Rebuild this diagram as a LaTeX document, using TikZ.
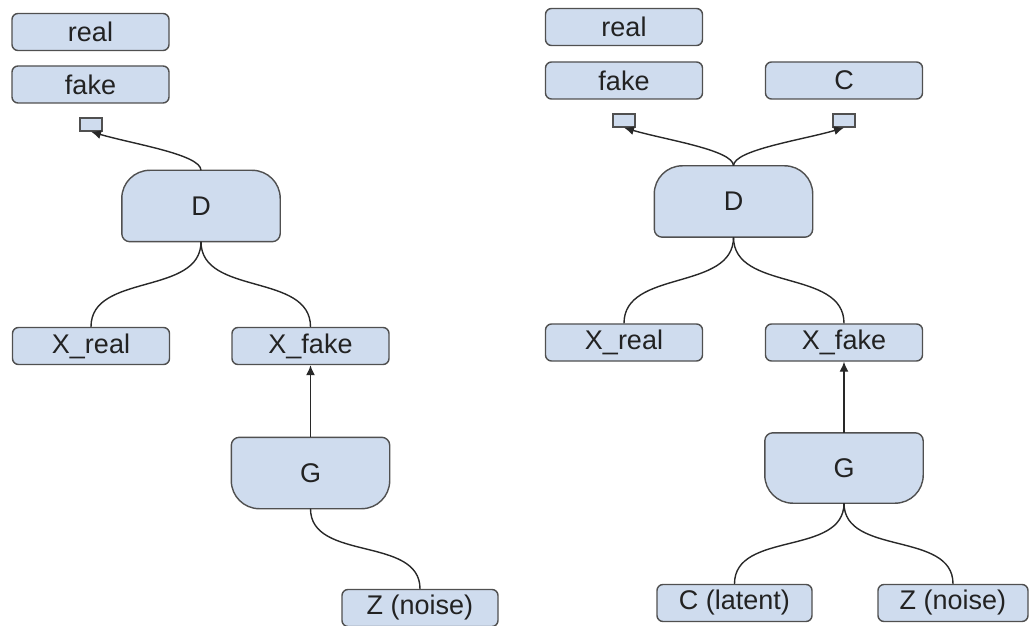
\documentclass[tikz,border=0pt]{standalone}
\usepackage{fontspec}
\setmainfont{Liberation Sans}
\usetikzlibrary{arrows.meta,backgrounds}
\definecolor{boxfill}{RGB}{207,220,238}
\definecolor{boxline}{RGB}{80,80,80}
\definecolor{txt}{RGB}{34,34,34}
\definecolor{wire}{RGB}{40,40,40}
\tikzset{
  lbl/.style={draw=boxline, fill=boxfill, line width=1.4pt, rounded corners=6pt,
    minimum width=157pt, minimum height=37pt, inner sep=0pt, text=txt,
    font=\fontsize{27}{31}\selectfont},
  sq/.style={draw=boxline, fill=boxfill, line width=1.3pt, minimum width=22pt,
    minimum height=13pt, inner sep=0pt},
  blk/.style={minimum width=158pt, minimum height=71pt, inner sep=0pt, text=txt,
    font=\fontsize{27}{31}\selectfont},
  blkshape/.style={draw=boxline, fill=boxfill, line width=1.4pt},
  link/.style={draw=wire, line width=1.4pt},
  arr/.style={link, -{Latex[length=10pt,width=9pt]}},
}
\newcommand\DshapeOf[1]{%
  \draw[blkshape] ([xshift=8pt]#1.south west) -- ([xshift=-8pt]#1.south east)
    arc[start angle=-90,end angle=0,radius=8pt] -- ([yshift=-28pt]#1.north east)
    arc[start angle=0,end angle=90,radius=28pt] -- ([xshift=28pt]#1.north west)
    arc[start angle=90,end angle=180,radius=28pt] -- ([yshift=8pt]#1.south west)
    arc[start angle=180,end angle=270,radius=8pt] -- cycle;}
\newcommand\GshapeOf[1]{%
  \draw[blkshape] ([xshift=28pt]#1.south west) -- ([xshift=-28pt]#1.south east)
    arc[start angle=-90,end angle=0,radius=28pt] -- ([yshift=-8pt]#1.north east)
    arc[start angle=0,end angle=90,radius=8pt] -- ([xshift=8pt]#1.north west)
    arc[start angle=90,end angle=180,radius=8pt] -- ([yshift=28pt]#1.south west)
    arc[start angle=180,end angle=270,radius=28pt] -- cycle;}
\begin{document}
\begin{tikzpicture}[x=1pt,y=1pt]
\useasboundingbox (0,0) rectangle (1029,625);

% ---------- left panel ----------
\node[lbl] (realL) at (90.5,593) {real};
\node[lbl] (fakeL) at (90.5,540.5) {fake};
\node[sq] (sqL) at (91,500.5) {};
\node[blk] (DL) at (201,419) {D};
\node[lbl] (xrealL) at (91,279) {X\_real};
\node[lbl] (xfakeL) at (310.5,279) {X\_fake};
\node[blk] (GL) at (310.5,152) {G};
\node[lbl, minimum width=156pt] (zL) at (420,17) {Z (noise)};

% ---------- right panel ----------
\node[lbl] (realR) at (624,598) {real};
\node[lbl] (fakeR) at (624,544.5) {fake};
\node[lbl] (cR) at (844,544.5) {C};
\node[sq] (sqR1) at (624,504.5) {};
\node[sq] (sqR2) at (844,504.5) {};
\node[blk] (DR) at (733.5,423.5) {D};
\node[lbl] (xrealR) at (624,282.5) {X\_real};
\node[lbl] (xfakeR) at (844,282.5) {X\_fake};
\node[blk, minimum height=70pt] (GR) at (844,157) {G};
\node[lbl, minimum width=155pt] (latR) at (734.5,22) {C (latent)};
\node[lbl, minimum width=150pt] (zR) at (953,22) {Z (noise)};

\begin{pgfonlayer}{background}
  \DshapeOf{DL}
  \GshapeOf{GL}
  \DshapeOf{DR}
  \GshapeOf{GR}
\end{pgfonlayer}

% ---------- connectors left ----------
\draw[arr] (DL.north) .. controls +(0,16) and +(40,-12) .. (sqL.south);
\draw[link] (DL.south) to[out=-90,in=90] (xrealL.north);
\draw[link] (DL.south) to[out=-90,in=90] (xfakeL.north);
\draw[arr] (GL.north) -- (xfakeL.south);
\draw[link] (GL.south) to[out=-90,in=90] (zL.north);

% ---------- connectors right ----------
\draw[arr] (DR.north) .. controls +(0,16) and +(40,-12) .. (sqR1.south);
\draw[arr] (DR.north) .. controls +(0,16) and +(-40,-12) .. (sqR2.south);
\draw[link] (DR.south) to[out=-90,in=90] (xrealR.north);
\draw[link] (DR.south) to[out=-90,in=90] (xfakeR.north);
\draw[arr] (GR.north) -- (xfakeR.south);
\draw[link] (GR.south) to[out=-90,in=90] (latR.north);
\draw[link] (GR.south) to[out=-90,in=90] (zR.north);
\end{tikzpicture}
\end{document}
